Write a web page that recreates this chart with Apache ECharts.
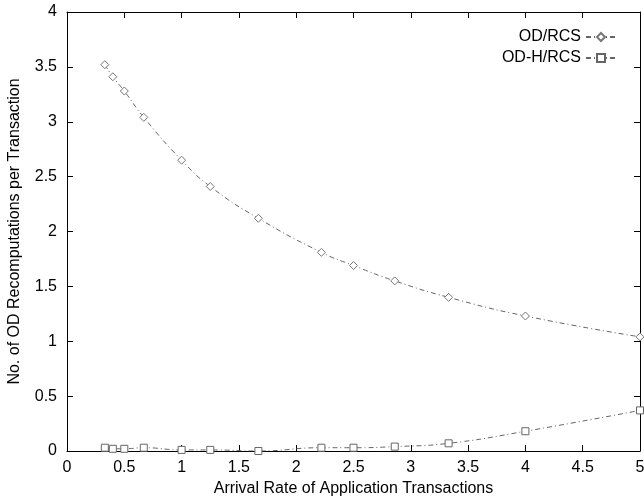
<!DOCTYPE html>
<html><head><meta charset="utf-8">
<script src="https://cdn.jsdelivr.net/npm/echarts@6/dist/echarts.min.js"></script>
<style>html,body{margin:0;padding:0;background:#fff}#c{width:644px;height:496px}</style>
</head><body><div id="c"></div>
<script>
var rates = [0.33, 0.4, 0.5, 0.67, 1.0, 1.25, 1.67, 2.22, 2.5, 2.86, 3.33, 4.0, 5.0];
var odRcs = [3.52, 3.41, 3.28, 3.04, 2.65, 2.41, 2.12, 1.81, 1.69, 1.55, 1.40, 1.23, 1.04];
var odhRcs = [0.03, 0.02, 0.02, 0.03, 0.01, 0.01, 0.00, 0.03, 0.03, 0.04, 0.07, 0.18, 0.37];
var seriesNames = ['OD/RCS', 'OD-H/RCS'];
var xTitle = 'Arrival Rate of Application Transactions';
var yTitle = 'No. of OD Recomputations per Transaction';

function pairs(xs, ys){ return xs.map(function(x,i){ return [x, ys[i]]; }); }
var font = 'Liberation Sans, Arial, Helvetica, sans-serif';
function axisCommon(){
  return {
    axisLine:{show:true,onZero:false,lineStyle:{color:'#000',width:1}},
    axisTick:{show:true,inside:true,length:6,lineStyle:{color:'#000'}},
    splitLine:{show:false}
  };
}
var chart = echarts.init(document.getElementById('c'));
chart.setOption({
  animation:false,
  backgroundColor:'#fff',
  textStyle:{fontFamily:font},
  grid:{left:67,right:4,top:12,bottom:45,containLabel:false,outerBoundsMode:'none'},
  legend:{
    right:22, top:24, orient:'vertical', align:'right',
    itemWidth:30, itemHeight:10, itemGap:5,
    textStyle:{fontFamily:font,fontSize:16,color:'#000'},
    data:seriesNames
  },
  xAxis:[
    Object.assign({type:'value',min:0,max:5,interval:0.5,position:'bottom',
      name:xTitle,nameLocation:'middle',nameGap:28,
      nameTextStyle:{fontFamily:font,fontSize:16,color:'#000'},
      axisLabel:{fontFamily:font,fontSize:16,color:'#000',margin:9}}, axisCommon()),
    Object.assign({type:'value',min:0,max:5,interval:0.5,position:'top',
      axisLabel:{show:false}}, axisCommon())
  ],
  yAxis:[
    Object.assign({type:'value',min:0,max:4,interval:0.5,position:'left',
      name:yTitle,nameLocation:'middle',nameGap:44,
      nameTextStyle:{fontFamily:font,fontSize:16,color:'#000'},
      axisLabel:{fontFamily:font,fontSize:16,color:'#000',margin:10}}, axisCommon()),
    Object.assign({type:'value',min:0,max:4,interval:0.5,position:'right',
      axisLabel:{show:false}}, axisCommon())
  ],
  series:[
    {name:seriesNames[0],type:'line',smooth:true,data:pairs(rates,odRcs),
      xAxisIndex:0,yAxisIndex:0,
      symbol:'diamond',symbolSize:8,showSymbol:true,
      itemStyle:{color:'#fff',borderColor:'#777',borderWidth:1},
      lineStyle:{color:'#666',width:1,type:[5,3,1,3]}},
    {name:seriesNames[1],type:'line',smooth:true,data:pairs(rates,odhRcs),
      xAxisIndex:0,yAxisIndex:0,
      symbol:'rect',symbolSize:7,showSymbol:true,
      itemStyle:{color:'#fff',borderColor:'#666',borderWidth:1},
      lineStyle:{color:'#666',width:1,type:[5,3,1,3]}}
  ]
});
</script></body></html>
